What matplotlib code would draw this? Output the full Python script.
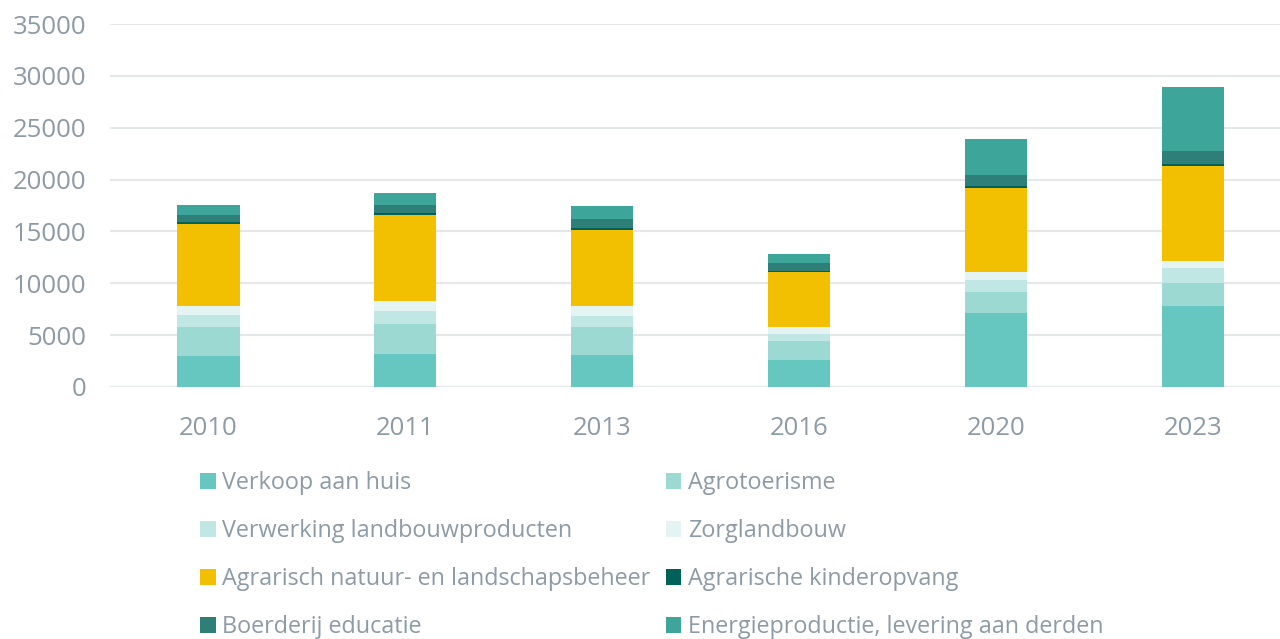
import matplotlib.pyplot as plt
import numpy as np
from matplotlib.patches import Patch

plt.rcParams['font.family'] = ['Open Sans', 'DejaVu Sans']

years = ["2010", "2011", "2013", "2016", "2020", "2023"]

series_names = [
    "Verkoop aan huis",
    "Agrotoerisme",
    "Verwerking landbouwproducten",
    "Zorglandbouw",
    "Agrarisch natuur- en landschapsbeheer",
    "Agrarische kinderopvang",
    "Boerderij educatie",
    "Energieproductie, levering aan derden",
]

verkoop = [3000, 3200, 3100, 2630, 7160, 7800]
agrotoerisme = [2770, 2900, 2730, 1830, 1990, 2220]
verwerking = [1150, 1220, 1030, 640, 1150, 1440]
zorg = [900, 960, 930, 680, 740, 710]
natuur = [7900, 8280, 7350, 5260, 8190, 9180]
kinderopvang = [200, 260, 160, 160, 130, 190]
educatie = [650, 770, 900, 710, 1120, 1250]
energie = [950, 1160, 1220, 960, 3470, 6100]

colors = ["#66c7c0", "#9dd9d3", "#c0e7e3", "#e3f4f2",
          "#f2c000", "#006158", "#2e7f78", "#3ea59b"]

text_col = "#8c9ba6"
grid_col = "#e5e7e9"

data = [verkoop, agrotoerisme, verwerking, zorg, natuur, kinderopvang, educatie, energie]

fig = plt.figure(figsize=(12.8, 6.39), dpi=100)
ax = fig.add_axes([110 / 1280, 1 - 387 / 639, 1170 / 1280, 363 / 639])

x = np.arange(len(years))
bottom = np.zeros(len(years))
for vals, c, name in zip(data, colors, series_names):
    ax.bar(x, vals, width=0.315, bottom=bottom, color=c, label=name, zorder=3)
    bottom += np.array(vals)

ax.set_ylim(0, 35000)
ax.set_xlim(-0.5, 5.44)
ax.set_yticks(range(0, 35001, 5000))
ax.set_xticks(x)
ax.set_xticklabels(years)
ax.yaxis.grid(True, color=grid_col, linewidth=1.5, zorder=0)
for s in ax.spines.values():
    s.set_visible(False)
ax.tick_params(axis='both', length=0, colors=text_col, labelsize=18.5)
ax.tick_params(axis='x', pad=21)
ax.tick_params(axis='y', pad=17)

# legend, row-wise order in two columns
order = [0, 2, 4, 6, 1, 3, 5, 7]
handles = [Patch(facecolor=colors[i], label=series_names[i]) for i in order]
leg = fig.legend(handles=handles, ncol=2, loc='upper left',
                 bbox_to_anchor=(191 / 1280, 1 - 462 / 639),
                 frameon=False, fontsize=16.8, labelcolor=text_col,
                 handlelength=0.65, handleheight=0.65, handletextpad=0.3,
                 columnspacing=0.65, labelspacing=1.03, borderaxespad=0)

fig.savefig("out.png", dpi=100)
